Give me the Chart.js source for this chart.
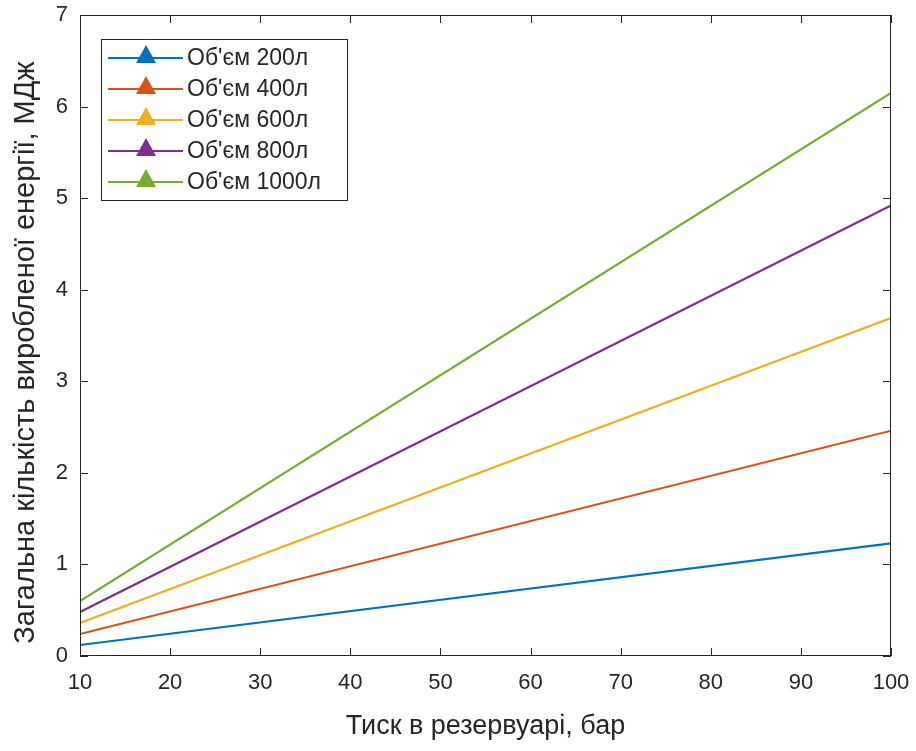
<!DOCTYPE html>
<html>
<head>
<meta charset="utf-8">
<script src="https://cdn.jsdelivr.net/npm/chart.js@4"></script>
<style>
  html, body { margin: 0; padding: 0; background: #fff; }
  #wrap { width: 916px; height: 751px; }
</style>
</head>
<body>
<div id="wrap"><canvas id="chart"></canvas></div>
<script>
// pressure, bar
const pressure = [10, 100];
// total energy, MJ, per tank volume
const vol200 = [0.12, 1.23];
const vol400 = [0.24, 2.46];
const vol600 = [0.36, 3.69];
const vol800 = [0.48, 4.92];
const vol1000 = [0.60, 6.15];

const seriesNames = ["Об'єм 200л", "Об'єм 400л", "Об'єм 600л", "Об'єм 800л", "Об'єм 1000л"];
const seriesColors = ['#0072BD', '#D95319', '#EDB120', '#7E2F8E', '#77AC30'];
const xTicks = [10, 20, 30, 40, 50, 60, 70, 80, 90, 100];
const yTicks = [0, 1, 2, 3, 4, 5, 6, 7];
const yTitle = 'Загальна кількість виробленої енергії, МДж';

const FONT = '"Liberation Sans", Arial, sans-serif';
const TEXT = '#262626';

const allSeries = [vol200, vol400, vol600, vol800, vol1000];

const datasets = allSeries.map((vals, i) => ({
    label: seriesNames[i],
    data: vals.map((v, j) => ({ x: pressure[j], y: v })),
    borderColor: seriesColors[i],
    backgroundColor: seriesColors[i],
    borderWidth: 2.2,
    pointRadius: 0,
    tension: 0
}));

// MATLAB style box with inward ticks, plus the rotated y label
const boxPlugin = {
    id: 'box',
    afterDraw(chart) {
        const { ctx, chartArea: a, scales } = chart;
        ctx.save();
        ctx.strokeStyle = TEXT;
        ctx.lineWidth = 1;
        ctx.strokeRect(a.left + 0.5, a.top + 0.5, a.right - a.left - 1, a.bottom - a.top - 1);
        const len = 8;
        ctx.beginPath();
        xTicks.forEach(v => {
            const px = Math.round(scales.x.getPixelForValue(v)) + 0.5;
            ctx.moveTo(px, a.bottom); ctx.lineTo(px, a.bottom - len);
            ctx.moveTo(px, a.top); ctx.lineTo(px, a.top + len);
        });
        yTicks.forEach(v => {
            const py = Math.round(scales.y.getPixelForValue(v)) + 0.5;
            ctx.moveTo(a.left, py); ctx.lineTo(a.left + len, py);
            ctx.moveTo(a.right, py); ctx.lineTo(a.right - len, py);
        });
        ctx.stroke();

        ctx.translate(26, (a.top + a.bottom) / 2 + 17);
        ctx.rotate(-Math.PI / 2);
        ctx.font = '29px ' + FONT;
        ctx.fillStyle = TEXT;
        ctx.textAlign = 'center';
        ctx.textBaseline = 'middle';
        ctx.fillText(yTitle, 0, 0);
        ctx.restore();
    }
};

// legend: line with triangle marker, inside a box
const legendPlugin = {
    id: 'matLegend',
    afterDraw(chart) {
        const { ctx } = chart;
        const x0 = 101, y0 = 39, w = 246, h = 161;
        ctx.save();
        ctx.fillStyle = '#fff';
        ctx.fillRect(x0, y0, w, h);
        ctx.strokeStyle = TEXT;
        ctx.lineWidth = 1;
        ctx.strokeRect(x0 + 0.5, y0 + 0.5, w, h);
        ctx.font = '23px ' + FONT;
        ctx.textBaseline = 'middle';
        chart.data.datasets.forEach((ds, i) => {
            const cy = y0 + 19 + i * 31;
            ctx.strokeStyle = ds.borderColor;
            ctx.lineWidth = 2.2;
            ctx.beginPath();
            ctx.moveTo(x0 + 7, cy); ctx.lineTo(x0 + 82, cy);
            ctx.stroke();
            ctx.fillStyle = ds.borderColor;
            ctx.beginPath();
            ctx.moveTo(x0 + 45, cy - 13);
            ctx.lineTo(x0 + 55, cy + 5);
            ctx.lineTo(x0 + 35, cy + 5);
            ctx.closePath();
            ctx.fill();
            ctx.fillStyle = TEXT;
            ctx.fillText(ds.label, x0 + 86, cy + 1);
        });
        ctx.restore();
    }
};

new Chart(document.getElementById('chart'), {
    type: 'line',
    data: { datasets },
    plugins: [boxPlugin, legendPlugin],
    options: {
        responsive: true,
        maintainAspectRatio: false,
        animation: false,
        layout: { padding: { top: 15, right: 25, left: 0, bottom: 0 } },
        plugins: { legend: { display: false }, tooltip: { enabled: false } },
        scales: {
            x: {
                type: 'linear',
                min: 10, max: 100,
                afterFit: s => { s.height = 95; s.paddingLeft = 0; s.paddingRight = 0; },
                afterBuildTicks: s => { s.ticks = xTicks.map(v => ({ value: v })); },
                grid: { display: false, drawTicks: false },
                border: { display: false },
                ticks: { color: TEXT, font: { family: FONT, size: 22 }, padding: 14 },
                title: { display: true, text: 'Тиск в резервуарі, бар', color: TEXT,
                         font: { family: FONT, size: 27 }, padding: { top: 10, bottom: 8 } }
            },
            y: {
                min: 0, max: 7,
                afterFit: s => { s.width = 80; s.paddingTop = 0; s.paddingBottom = 0; },
                afterBuildTicks: s => { s.ticks = yTicks.map(v => ({ value: v })); },
                grid: { display: false, drawTicks: false },
                border: { display: false },
                ticks: { color: TEXT, font: { family: FONT, size: 22 }, padding: 12 },
                title: { display: false }
            }
        }
    }
});
</script>
</body>
</html>
